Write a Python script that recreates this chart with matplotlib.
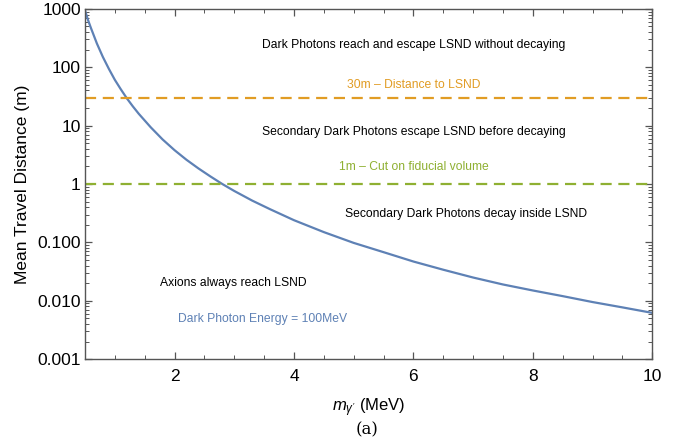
import matplotlib
matplotlib.use('Agg')
import matplotlib.pyplot as plt
from matplotlib.ticker import FixedLocator, NullFormatter

plt.rcParams['font.family'] = ['Liberation Sans', 'DejaVu Sans']
plt.rcParams['mathtext.fontset'] = 'custom'
plt.rcParams['mathtext.it'] = 'Liberation Sans:italic'
plt.rcParams['mathtext.rm'] = 'Liberation Sans'

# Mean travel distance of the dark photon
mass = [0.5, 0.55, 0.6, 0.7, 0.8, 0.9, 1.0, 1.1, 1.2, 1.3, 1.4, 1.6, 1.8,
        2.0, 2.2, 2.4, 2.6, 2.8, 3.0, 3.3, 3.6, 4.0, 4.5, 5.0, 5.5, 6.0,
        6.5, 7.0, 7.5, 8.0, 8.5, 9.0, 9.5, 10.0]
distance = [950, 650, 470, 255, 150, 94, 61, 42, 29.5, 21.5, 16, 9.4, 5.8,
            3.8, 2.6, 1.85, 1.35, 1.0, 0.76, 0.52, 0.37, 0.24, 0.15, 0.098,
            0.068, 0.047, 0.034, 0.025, 0.019, 0.015, 0.012, 0.0095, 0.0077,
            0.0062]

lsnd_distance = 30
fiducial_cut = 1

yticks = [0.001, 0.01, 0.1, 1, 10, 100, 1000]
ytick_labels = ['0.001', '0.010', '0.100', '1', '10', '100', '1000']
xticks = [2, 4, 6, 8, 10]

blue = '#5E81B5'
orange = '#E19C24'
green = '#8FB032'
frame = '#555555'

fig = plt.figure(figsize=(6.88, 4.45), dpi=100)
ax = fig.add_axes([0.1235, 0.193, 0.8245, 0.787])

ax.plot(mass, distance, color=blue, lw=1.6)
ax.axhline(lsnd_distance, color=orange, lw=1.6, ls=(0, (5, 3)))
ax.axhline(fiducial_cut, color=green, lw=1.6, ls=(0, (5, 3)))

ax.set_yscale('log')
ax.set_xlim(0.5, 10)
ax.set_ylim(0.001, 1000)

ax.set_xticks(xticks)
ax.set_xticklabels([str(t) for t in xticks])
ax.xaxis.set_minor_locator(FixedLocator([1, 1.5, 2.5, 3, 3.5, 4.5, 5, 5.5, 6.5, 7, 7.5, 8.5, 9, 9.5]))
ax.set_yticks(yticks)
ax.set_yticklabels(ytick_labels)
ax.yaxis.set_minor_formatter(NullFormatter())

ax.tick_params(which='both', direction='in', top=True, right=True,
               color=frame, labelsize=12.5)
ax.tick_params(axis='x', pad=7)
ax.tick_params(axis='y', pad=3)
ax.tick_params(which='major', length=5, width=0.9)
ax.tick_params(which='minor', length=3, width=0.7)
for s in ax.spines.values():
    s.set_color(frame)
    s.set_linewidth(1.0)

ax.set_ylabel('Mean Travel Distance (m)', fontsize=12.5, labelpad=5)
ax.set_xlabel(r"$m_{\gamma'}$ (MeV)", fontsize=12, labelpad=9)

# region annotations
fs = 8.75
ax.text(6.0, 241, 'Dark Photons reach and escape LSND without decaying', fontsize=fs, ha='center', va='center')
ax.text(6.0, 50, '30m – Distance to LSND', fontsize=fs, ha='center', va='center', color=orange)
ax.text(6.0, 7.8, 'Secondary Dark Photons escape LSND before decaying', fontsize=fs, ha='center', va='center')
ax.text(6.0, 1.95, '1m – Cut on fiducial volume', fontsize=fs, ha='center', va='center', color=green)
ax.text(6.88, 0.306, 'Secondary Dark Photons decay inside LSND', fontsize=fs, ha='center', va='center')
ax.text(2.98, 0.020, 'Axions always reach LSND', fontsize=fs, ha='center', va='center')
ax.text(3.47, 0.00485, 'Dark Photon Energy = 100MeV', fontsize=fs, ha='center', va='center', color=blue)

fig.text(0.534, 0.034, '(a)', fontsize=12, ha='center', va='center', family='DejaVu Serif')

fig.savefig('out.png', dpi=100)
